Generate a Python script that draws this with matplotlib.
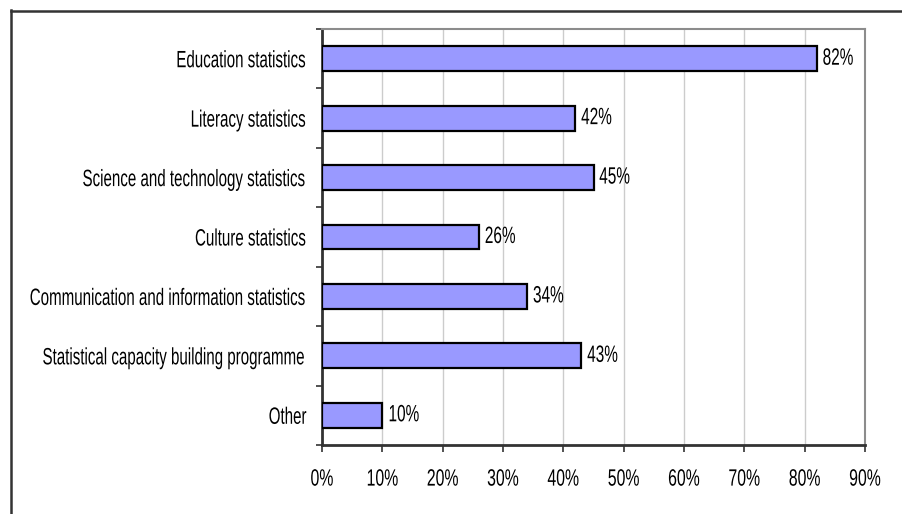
import matplotlib
matplotlib.use("Agg")
import matplotlib.pyplot as plt
from matplotlib.lines import Line2D
from matplotlib.patheffects import AbstractPathEffect
from matplotlib.transforms import Affine2D
from matplotlib.ticker import FixedLocator, PercentFormatter

categories = [
    "Education statistics",
    "Literacy statistics",
    "Science and technology statistics",
    "Culture statistics",
    "Communication and information statistics",
    "Statistical capacity building programme",
    "Other",
]
shares = [82, 42, 45, 26, 34, 43, 10]
x_ticks = [0, 10, 20, 30, 40, 50, 60, 70, 80, 90]

plt.rcParams["font.family"] = ["Liberation Sans", "DejaVu Sans"]


class Condensed(AbstractPathEffect):
    """Draw glyph outlines narrowed horizontally, keeping the aligned edge fixed."""

    def __init__(self, sx, anchor="center"):
        super().__init__()
        self.sx = sx
        self.anchor = anchor

    def draw_path(self, renderer, gc, tpath, affine, rgbFace=None):
        ext = tpath.get_extents(affine)
        if self.anchor == "right":
            x0 = ext.x1
        elif self.anchor == "left":
            x0 = ext.x0
        else:
            x0 = 0.5 * (ext.x0 + ext.x1)
        squeeze = Affine2D().translate(-x0, 0).scale(self.sx, 1).translate(x0, 0)
        renderer.draw_path(gc, tpath, affine + squeeze, rgbFace)


FS = 17
W, H = 903, 514
fig = plt.figure(figsize=(W / 100, H / 100), dpi=100)
ax = fig.add_axes([322 / W, 1 - 445 / H, (865 - 322) / W, (445 - 29) / H])

n = len(categories)
ypos = list(range(n))[::-1]
ax.barh(ypos, shares, height=0.42, color="#9999FF", edgecolor="black",
        linewidth=1.6, zorder=3)
for y, v in zip(ypos, shares):
    ax.annotate(f"{v}%", (v, y), xytext=(4, 0), textcoords="offset points",
                va="center", ha="left", fontsize=FS, color="black",
                path_effects=[Condensed(0.65, "left")])

ax.set_xlim(0, 90)
ax.set_ylim(-0.5, n - 0.5)
ax.xaxis.set_major_locator(FixedLocator(x_ticks))
ax.xaxis.set_major_formatter(PercentFormatter(decimals=0))
ax.grid(axis="x", color="#cccccc", linewidth=1, zorder=0)

ax.set_yticks(ypos)
ax.set_yticklabels(categories)
ax.set_yticks([i - 0.5 for i in range(n + 1)], minor=True)
ax.tick_params(axis="y", which="major", length=0, pad=11, labelsize=FS)
ax.tick_params(axis="y", which="minor", length=4.5, width=1.2, direction="out",
               color="#333333")
ax.tick_params(axis="x", length=5, width=1.2, direction="out", color="#333333",
               labelsize=FS, pad=12)

for lab in ax.get_yticklabels():
    lab.set_path_effects([Condensed(0.64, "right")])
for lab in ax.get_xticklabels():
    lab.set_path_effects([Condensed(0.67, "center")])

for side in ("top", "right"):
    ax.spines[side].set_color("#8c8c8c")
    ax.spines[side].set_linewidth(1.5)
for side in ("left", "bottom"):
    ax.spines[side].set_color("#333333")
    ax.spines[side].set_linewidth(2)

# outer chart frame (top and left edges)
fig.add_artist(Line2D([11 / W, 1.0], [1 - 10.5 / H, 1 - 10.5 / H],
                      transform=fig.transFigure, color="#333333", linewidth=1.8))
fig.add_artist(Line2D([11 / W, 11 / W], [1 - 10 / H, 0.0],
                      transform=fig.transFigure, color="#333333", linewidth=1.8))

fig.savefig("out.png", dpi=100)
